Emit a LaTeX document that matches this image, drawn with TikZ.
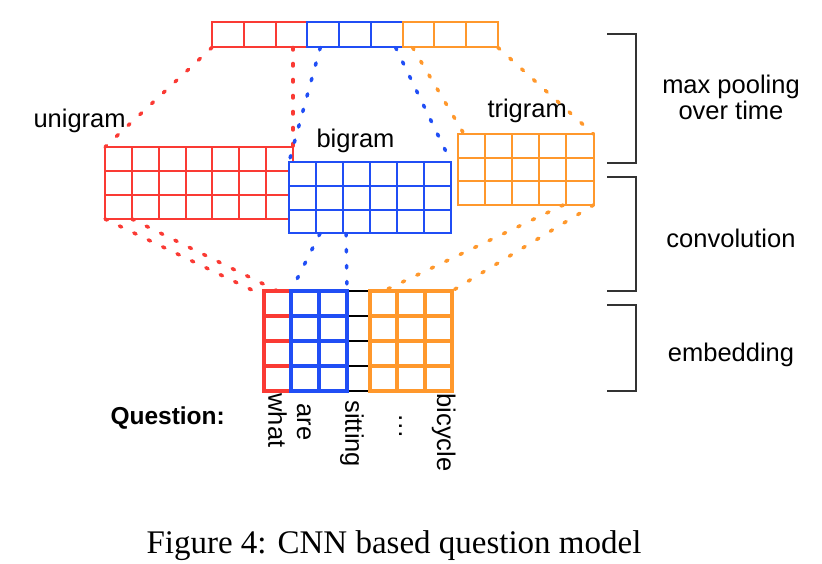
\documentclass[tikz,border=0pt]{standalone}
\usepackage{fontspec}
\setmainfont{Liberation Sans}
\newfontfamily\capfont{Liberation Serif}
\usetikzlibrary{calc}
\definecolor{cnnred}{RGB}{250,58,52}
\definecolor{cnnblue}{RGB}{32,78,245}
\definecolor{cnnorange}{RGB}{255,152,44}
\newlength\pxl
\setlength\pxl{0.4pt}
\newcommand\labfont{\fontsize{10.2}{12}\selectfont}

\begin{document}
\begin{tikzpicture}[x=0.4pt, y=-0.4pt,
  cells/.style n args={3}{draw, fill=white, inner sep=0pt, outer sep=0pt, anchor=north west, #3,
    path picture={
      \foreach \col in {1,...,#1}
        \draw[#3] ($(path picture bounding box.north west)!\col/#1!(path picture bounding box.north east)$)
          -- ($(path picture bounding box.south west)!\col/#1!(path picture bounding box.south east)$);
      \foreach \row in {1,...,#2}
        \draw[#3] ($(path picture bounding box.north west)!\row/#2!(path picture bounding box.south west)$)
          -- ($(path picture bounding box.north east)!\row/#2!(path picture bounding box.south east)$);
    }},
  gridred/.style={draw=cnnred, line width=0.8pt},
  gridblue/.style={draw=cnnblue, line width=0.8pt},
  gridorange/.style={draw=cnnorange, line width=0.8pt},
  embred/.style={draw=cnnred, line width=1.6pt},
  embblue/.style={draw=cnnblue, line width=1.6pt},
  emborange/.style={draw=cnnorange, line width=1.6pt},
  link/.style={line width=1.4pt, line cap=round, dash pattern=on 1pt off 5.4pt},
  lab/.style={font=\labfont, inner sep=0pt},
  word/.style={lab, rotate=-90, anchor=base west},
  brace/.style={line width=0.7pt, draw=black!80}
]
\useasboundingbox (0,0) rectangle (822,564);

% max pooling row
\node[cells={3}{1}{gridred}, minimum width=95.3\pxl, minimum height=25\pxl] (poolred) at (212,22.5) {};
\node[cells={3}{1}{gridblue}, minimum width=95.3\pxl, minimum height=25\pxl] (poolblue) at (307.3,22.5) {};
\node[cells={3}{1}{gridorange}, minimum width=95.3\pxl, minimum height=25\pxl] (poolorange) at (402.6,22.5) {};

% feature maps
\node[cells={7}{3}{gridred}, minimum width=188\pxl, minimum height=72\pxl] (uni) at (105,147) {};
\node[cells={6}{3}{gridblue}, minimum width=162\pxl, minimum height=71.5\pxl] (bi) at (289,162) {};
\node[cells={5}{3}{gridorange}, minimum width=135.5\pxl, minimum height=71\pxl] (tri) at (458,134) {};

% embedding
\node[inner sep=0pt, outer sep=0pt, anchor=north west, minimum width=23\pxl, minimum height=100\pxl] (esit) at (347,291) {};
\foreach \row in {0,...,4}
  \draw[line width=0.6pt] ($(esit.north west)!\row/4!(esit.south west)$) -- ($(esit.north east)!\row/4!(esit.south east)$);
\node[cells={1}{4}{embred}, minimum width=27\pxl, minimum height=100\pxl] (ewhat) at (264,291) {};
\node[cells={2}{4}{embblue}, minimum width=56\pxl, minimum height=100\pxl] (eare) at (291,291) {};
\node[cells={3}{4}{emborange}, minimum width=82\pxl, minimum height=100\pxl] (ebike) at (370,291) {};

% labels
\node[lab, anchor=base west] (lbuni) at (33,128) {unigram};
\node[lab, anchor=base west] (lbbi) at (316,148) {bigram};
\node[lab, anchor=base west] (lbtri) at (487,118) {trigram};
\node[lab, font=\fontsize{9.8}{12}\selectfont\bfseries, anchor=base west] (qlab) at (110,425) {Question:};

\node[word] (wwhat) at (268.5,393) {what};
\node[word] (ware) at (297,403) {are};
\node[word] (wsit) at (345.5,400) {sitting};
\node[word] (wdots) at (399,413) {\dots};
\node[word] (wbike) at (437,393) {bicycle};

% stages
\draw[brace] (607,34) -| (636,162.7) -- (607,162.7);
\draw[brace] (607,176.7) -| (636,290.7) -- (607,290.7);
\draw[brace] (607,305) -| (636,390.7) -- (607,390.7);
\node[lab, anchor=base] (lbpool) at (731,94) {max pooling};
\node[lab, anchor=base] (lbtime) at (731,120) {over time};
\node[lab, anchor=base] (lbconv) at (731,248) {convolution};
\node[lab, anchor=base] (lbemb) at (731,362) {embedding};

% connectors
\draw[link, cnnred] (poolred.south west) -- (uni.north west);
\draw[link, cnnred] (uni.north east |- poolred.south) -- (uni.north east);
\draw[link, cnnblue] ($(poolblue.south west)+(13,0)$) -- (bi.north west);
\draw[link, cnnblue] ($(poolblue.south east)+(-7,0)$) -- (bi.north east);
\draw[link, cnnorange] ($(poolorange.south west)+(10,0)$) -- ($(tri.north west)+(6,0)$);
\draw[link, cnnorange] (poolorange.south east) -- (tri.north east);
\draw[link, cnnred] (uni.south west) -- ($(ewhat.north west)+(-10,0)$);
\draw[link, cnnred] ($(uni.south west)!1/7!(uni.south east)$) -- (ewhat.north);
\draw[link, cnnblue] ($(bi.south west)!1/6!(bi.south east)+(4,0)$) -- (eare.north west);
\draw[link, cnnblue] ($(bi.south west)!2/6!(bi.south east)+(3,0)$) -- (eare.north east);
\draw[link, cnnorange] ($(tri.south west)!4/5!(tri.south east)+(-3,0)$) -- ($(ebike.north west)!1/6!(ebike.north east)$);
\draw[link, cnnorange] (tri.south east) -- (ebike.north east);

% caption
\node[font=\capfont\fontsize{13.2}{15}\selectfont, anchor=base, inner sep=0pt] (cap) at (394,554) {Figure 4: CNN based question model};
\end{tikzpicture}
\end{document}
